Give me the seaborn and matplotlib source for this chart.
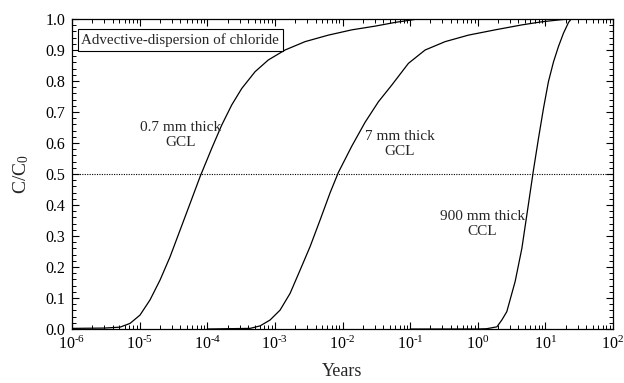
import matplotlib
matplotlib.use("Agg")
import matplotlib.pyplot as plt
import matplotlib.ticker as mticker
import numpy as np
import pandas as pd
import seaborn as sns

# ---- data ----
gcl07_years = [1e-6, 3e-6, 5.13e-6, 7.21e-6, 1.014e-5, 1.426e-5, 2.005e-5, 2.82e-5,
               3.965e-5, 5.575e-5, 7.82e-5, 1.166e-4, 1.639e-4, 2.304e-4, 3.239e-4,
               5.095e-4, 8.013e-4, 1.415e-3, 2.797e-3, 6.18e-3, 1.373e-2, 3.035e-2,
               6.0e-2, 0.13, 100.0]
gcl07_c = [0.002, 0.003, 0.006, 0.018, 0.045, 0.094, 0.158, 0.233,
           0.319, 0.405, 0.491, 0.583, 0.658, 0.723, 0.776,
           0.83, 0.868, 0.9, 0.927, 0.948, 0.965, 0.977,
           0.989, 1.0, 1.0]

gcl7_years = [1e-4, 4.3e-4, 6.04e-4, 8.49e-4, 1.194e-3, 1.679e-3, 2.36e-3, 3.32e-3,
              4.67e-3, 6.57e-3, 8.69e-3, 1.373e-2, 2.159e-2, 3.396e-2, 5.36e-2,
              9.44e-2, 0.1667, 0.3296, 0.7286, 1.809, 4.49, 8.88, 17.5, 24.0, 100.0]
gcl7_c = [0.0, 0.002, 0.01, 0.029, 0.061, 0.115, 0.19, 0.266,
          0.352, 0.44, 0.505, 0.59, 0.667, 0.733, 0.787,
          0.857, 0.9, 0.927, 0.948, 0.965, 0.981, 0.991, 0.998, 1.0, 1.0]

ccl_years = [0.1, 1.0, 1.36, 1.92, 2.27, 2.69, 3.57, 4.49, 5.32, 6.67, 7.91, 9.38,
             11.1, 13.2, 15.6, 18.5, 22.0, 24.1]
ccl_c = [0.0, 0.0, 0.001, 0.007, 0.029, 0.056, 0.153, 0.26, 0.368, 0.513, 0.615, 0.712,
         0.798, 0.862, 0.911, 0.954, 0.989, 1.0]

labels = ["0.7 mm thick\nGCL", "7 mm thick\nGCL", "900 mm thick\nCCL"]
label_pos = [(4.1e-5, 0.627), (0.0711, 0.597), (1.16, 0.339)]

x_ticks = [1e-6, 1e-5, 1e-4, 1e-3, 1e-2, 1e-1, 1e0, 1e1, 1e2]
y_ticks = [0.0, 0.1, 0.2, 0.3, 0.4, 0.5, 0.6, 0.7, 0.8, 0.9, 1.0]
title_box = "Advective-dispersion of chloride"

# ---- style ----
sns.set_theme(style="ticks")
plt.rcParams["font.family"] = ["Liberation Serif", "DejaVu Serif"]
plt.rcParams["mathtext.fontset"] = "custom"
plt.rcParams["mathtext.rm"] = "Liberation Serif"
plt.rcParams["mathtext.it"] = "Liberation Serif:italic"
plt.rcParams["axes.linewidth"] = 0.9

fig = plt.figure(figsize=(6.24, 3.83), dpi=100)
ax = fig.add_axes([72 / 624, 1 - 329 / 383, (613 - 72) / 624, (329 - 19) / 383])

frames = [
    pd.DataFrame({"Years": gcl07_years, "C": gcl07_c, "case": "a"}),
    pd.DataFrame({"Years": gcl7_years, "C": gcl7_c, "case": "b"}),
    pd.DataFrame({"Years": ccl_years, "C": ccl_c, "case": "c"}),
]
for df in frames:
    sns.lineplot(data=df, x="Years", y="C", ax=ax, color="black", linewidth=0.9,
                 estimator=None, sort=False, legend=False)

ax.axhline(0.5, color="black", linestyle=(0, (1, 1.2)), linewidth=0.8)

ax.set_xscale("log")
ax.set_xlim(1e-6, 1e2)
ax.set_ylim(0, 1.0)
ax.xaxis.set_major_locator(mticker.FixedLocator(x_ticks))
ax.xaxis.set_minor_locator(mticker.LogLocator(base=10, subs=np.arange(2, 10), numticks=20))
ax.xaxis.set_minor_formatter(mticker.NullFormatter())
ax.xaxis.set_major_formatter(mticker.FuncFormatter(
    lambda v, p: r"$\mathdefault{10^{\text{%d}}}$" % int(round(np.log10(v)))))
ax.yaxis.set_major_locator(mticker.FixedLocator(y_ticks))
ax.yaxis.set_minor_locator(mticker.MultipleLocator(0.02))
ax.yaxis.set_major_formatter(mticker.FormatStrFormatter("%.1f"))

ax.tick_params(which="both", direction="in", top=True, right=True, colors="black",
               labelsize=11.5)
ax.tick_params(which="major", length=5, width=0.8, pad=5)
ax.tick_params(which="minor", length=2.8, width=0.7)
for s in ax.spines.values():
    s.set_visible(True)
    s.set_color("black")

ax.set_xlabel("Years", fontsize=13, labelpad=7)
ax.set_ylabel(r"C/C$_0$", fontsize=14, labelpad=10)

ax.text(1.38e-6, 0.932, title_box, fontsize=10.8, ha="left", va="center",
        bbox=dict(boxstyle="square,pad=0.25", facecolor="white", edgecolor="black", linewidth=0.8))

for txt, (lx, ly) in zip(labels, label_pos):
    ax.text(lx, ly, txt, fontsize=11, ha="center", va="center", linespacing=1.2)

fig.savefig("out.png", dpi=100, facecolor="white")
